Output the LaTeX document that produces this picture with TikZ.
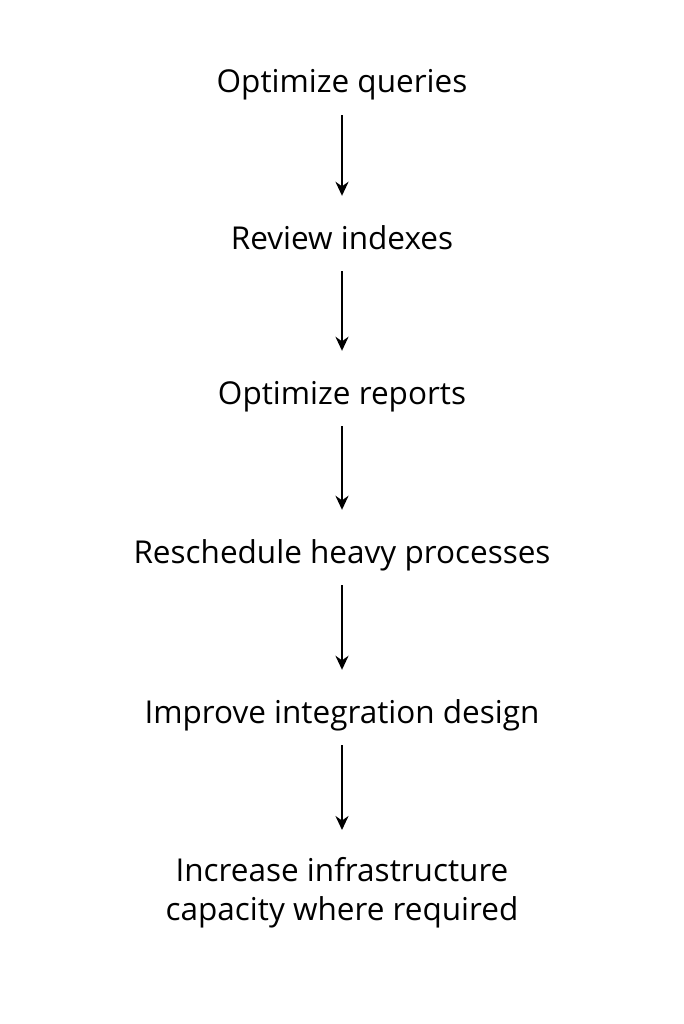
\documentclass[tikz,border=0pt]{standalone}
\usepackage{fontspec}
\setmainfont{Open Sans}
\usetikzlibrary{arrows.meta}
\begin{document}
\begin{tikzpicture}[x=1pt,y=-1pt,
  stepnode/.style={inner sep=0pt,text height=23pt,text depth=7pt,font=\fontsize{31.5}{39}\selectfont,align=center},
  arr/.style={line width=2.5pt,-{Stealth[length=14pt,width=13pt]}}]
\useasboundingbox[fill=white] (0,0) rectangle (683,1024);
\node[stepnode] (a) at (342,85) {Optimize queries};
\node[stepnode] (b) at (342,241) {Review indexes};
\node[stepnode] (c) at (342,396) {Optimize reports};
\node[stepnode] (d) at (342,555) {Reschedule heavy processes};
\node[stepnode] (e) at (342,715) {Improve integration design};
\node[inner sep=0pt,font=\fontsize{31.5}{39}\selectfont,align=center] (f) at (342,893) {Increase infrastructure\\capacity where required};
\coordinate (fend) at (342,830);
\draw[arr,shorten <=15pt,shorten >=30pt] (a.south) -- (b.north);
\draw[arr,shorten <=15pt,shorten >=30pt] (b.south) -- (c.north);
\draw[arr,shorten <=15pt,shorten >=30pt] (c.south) -- (d.north);
\draw[arr,shorten <=15pt,shorten >=30pt] (d.south) -- (e.north);
\draw[arr,shorten <=15pt] (e.south) -- (fend);
\end{tikzpicture}
\end{document}
